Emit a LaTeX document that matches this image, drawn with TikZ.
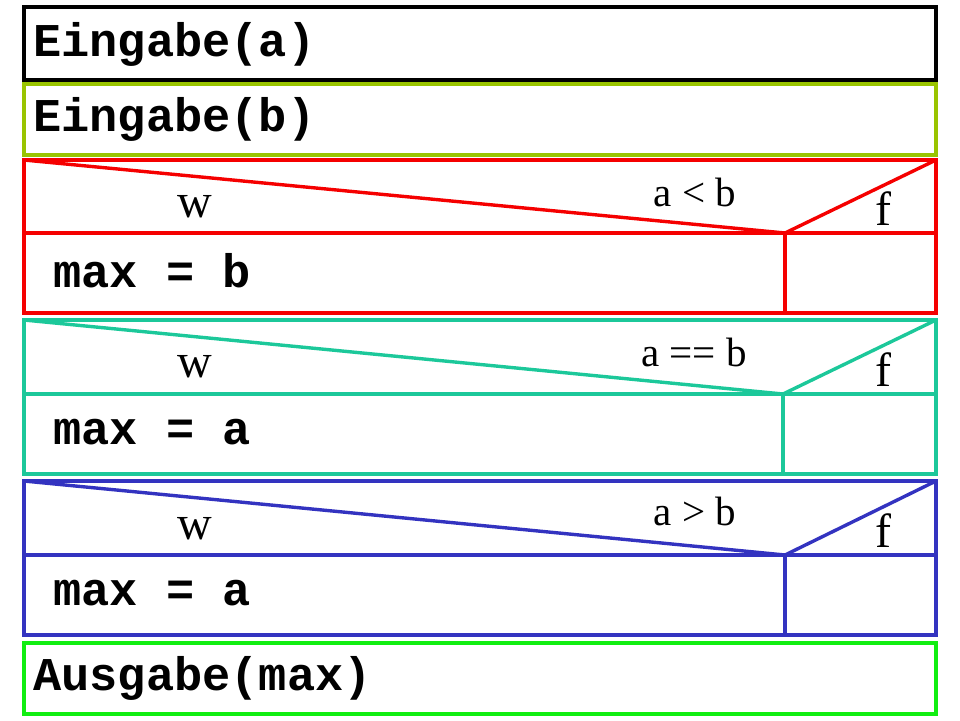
\documentclass[tikz,border=0pt]{standalone}
\usepackage{fontspec}
\setmainfont{Liberation Serif}
\setmonofont{Liberation Mono}
\usetikzlibrary{positioning}
\definecolor{inbcol}{RGB}{153,196,0}
\definecolor{ltcol}{RGB}{245,0,0}
\definecolor{eqcol}{RGB}{28,200,154}
\definecolor{gtcol}{RGB}{51,51,192}
\definecolor{outcol}{RGB}{17,238,17}

\begin{document}
\begin{tikzpicture}[
  x=0.5pt, y=-0.5pt,
  frame/.style={draw=#1, line width=1.75pt, inner sep=0pt, outer sep=0pt,
                minimum width=456pt, anchor=north west, fill=white},
  split/.style={draw=#1, line width=1.7pt},
  code/.style={font=\fontsize{23.5}{28}\selectfont\ttfamily\bfseries, inner sep=0pt, anchor=west},
  cond/.style={font=\fontsize{20.5}{24}\selectfont, inner sep=0pt},
  branch/.style={font=\fontsize{24}{28}\selectfont, inner sep=0pt},
]
\useasboundingbox (0,0) rectangle (960,720);

%====================== INPUT ======================
\node[frame=black, line width=2pt, minimum height=36.5pt] (inA) at (24,7) {};
\node[code] (inAt) at (33,44) {Eingabe(a)};
\node[frame=inbcol, minimum height=35.5pt] (inB) at (24,84) {};
\node[code] (inBt) at (33,119) {Eingabe(b)};

%====================== IF a < b ======================
\node[frame=ltcol, minimum height=76.5pt] (lt) at (24,160) {};
\coordinate (ltM) at (785,233);
\draw[split=ltcol] (lt.north west) -- (ltM) -- (lt.north east);
\draw[split=ltcol] (lt.west |- ltM) -- (lt.east |- ltM);
\draw[split=ltcol] (ltM) -- (ltM |- lt.south);
\node[cond] (ltc) at (695,192) {a < b};
\node[branch] (ltw) at (195,207) {w};
\node[branch] (ltf) at (883,209) {f};
\node[code] (ltt) at (53,271) {max = b};

%====================== IF a == b ======================
\node[frame=eqcol, minimum height=77pt] (eq) at (24,320) {};
\coordinate (eqM) at (783,394);
\draw[split=eqcol] (eq.north west) -- (eqM) -- (eq.north east);
\draw[split=eqcol] (eq.west |- eqM) -- (eq.east |- eqM);
\draw[split=eqcol] (eqM) -- (eqM |- eq.south);
\node[cond] (eqc) at (694,352) {a == b};
\node[branch] (eqw) at (195,367) {w};
\node[branch] (eqf) at (883,370) {f};
\node[code] (eqt) at (53,432) {max = a};

%====================== IF a > b ======================
\node[frame=gtcol, minimum height=77pt] (gt) at (24,481) {};
\coordinate (gtM) at (785,555);
\draw[split=gtcol] (gt.north west) -- (gtM) -- (gt.north east);
\draw[split=gtcol] (gt.west |- gtM) -- (gt.east |- gtM);
\draw[split=gtcol] (gtM) -- (gtM |- gt.south);
\node[cond] (gtc) at (695,511) {a > b};
\node[branch] (gtw) at (195,529) {w};
\node[branch] (gtf) at (883,531) {f};
\node[code] (gtt) at (53,593) {max = a};

%====================== OUTPUT ======================
\node[frame=outcol, minimum height=35.5pt] (out) at (24,643) {};
\node[code] (outt) at (33,678) {Ausgabe(max)};
\end{tikzpicture}
\end{document}
